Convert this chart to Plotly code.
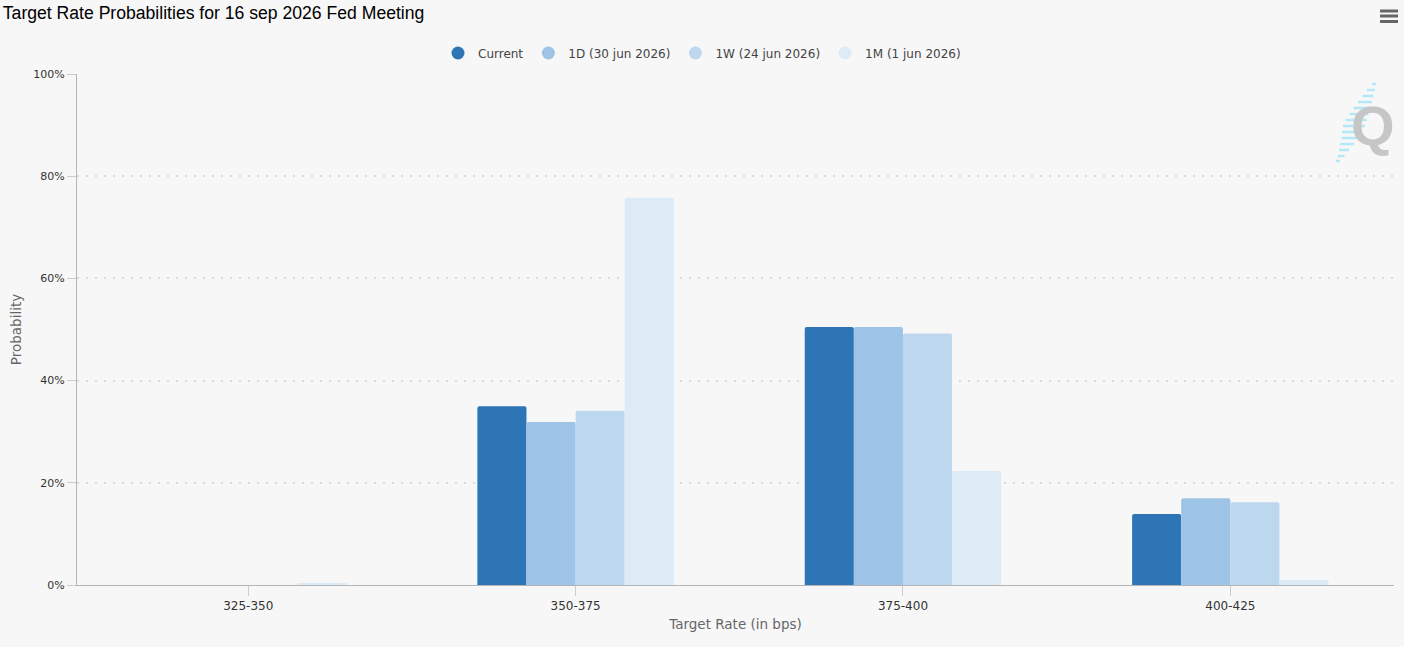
import plotly.graph_objects as go

categories = ["325-350", "350-375", "375-400", "400-425"]
series_names = ["Current", "1D (30 jun 2026)", "1W (24 jun 2026)", "1M (1 jun 2026)"]
current = [0.0, 35.0, 50.5, 13.9]
one_day = [0.0, 31.9, 50.5, 17.0]
one_week = [0.0, 34.1, 49.2, 16.2]
one_month = [0.2, 75.8, 22.3, 1.0]
y_ticks = [0, 20, 40, 60, 80, 100]
y_tick_labels = ["0%", "20%", "40%", "60%", "80%", "100%"]
colors = ["#2E75B6", "#9DC3E6", "#BDD7EE", "#DDEBF7"]

W, H = 1404, 647
L, R, T, B = 77, 10, 74, 62
PW, PH = W - L - R, H - T - B
FONT = "DejaVu Sans, Verdana, sans-serif"


def px2paper(px, py):
    return (px - L) / PW, (H - B - py) / PH


fig = go.Figure()
for name, vals, col in zip(series_names, [current, one_day, one_week, one_month], colors):
    fig.add_trace(go.Bar(
        x=categories, y=vals, name=name, marker=dict(color=col, line=dict(width=0)),
        showlegend=False, legendgroup=name,
    ))
for name, col in zip(series_names, colors):
    fig.add_trace(go.Scatter(
        x=[None], y=[None], mode="markers", name=name, legendgroup=name,
        marker=dict(color=col, size=13, symbol="circle"),
    ))

shapes = []
# hamburger menu icon
for yy in (11, 16, 21.5):
    x0, y0 = px2paper(1380, yy)
    x1, _ = px2paper(1398, yy)
    shapes.append(dict(type="line", xref="paper", yref="paper", x0=x0, x1=x1, y0=y0, y1=y0,
                       line=dict(color="#666666", width=3)))
# watermark streak
streak = [(1374, 84, 4), (1371, 90, 8), (1368, 96, 11), (1365, 102, 14), (1362, 108, 17),
          (1359, 114, 19), (1356, 120, 21), (1354, 126, 22), (1352, 132, 20), (1350, 138, 17),
          (1347, 144, 14), (1344, 150, 10), (1341, 156, 7), (1338, 161, 4)]
for cx, cy, ln in streak:
    x0, y0 = px2paper(cx - ln / 2, cy)
    x1, _ = px2paper(cx + ln / 2, cy)
    shapes.append(dict(type="line", xref="paper", yref="paper", x0=x0, x1=x1, y0=y0, y1=y0,
                       line=dict(color="#b5e8f7", width=2.5), layer="below"))

qx, qy = px2paper(1373, 125)

fig.update_layout(
    width=W, height=H,
    margin=dict(l=L, r=R, t=T, b=B, autoexpand=False),
    paper_bgcolor="#f7f7f7", plot_bgcolor="#f7f7f7",
    font=dict(family=FONT, size=11, color="#333333"),
    barmode="group", bargap=0.4, bargroupgap=0.0, barcornerradius=2,
    title=dict(text="Target Rate Probabilities for 16 sep 2026 Fed Meeting",
               x=0.002, xref="container", xanchor="left",
               y=1 - 13 / H, yref="container", yanchor="middle",
               font=dict(family="Liberation Sans, Arial, sans-serif", size=17.6, color="#000000")),
    legend=dict(orientation="h", x=0.5, xref="container", xanchor="center",
                y=1 - 53 / H, yref="container", yanchor="middle",
                font=dict(family=FONT, size=12, color="#444444"), bgcolor="rgba(0,0,0,0)",
                itemwidth=30, tracegroupgap=0),
    xaxis=dict(
        range=[-0.523, 3.5], showgrid=False, showline=True, linecolor="#b5b5b5", linewidth=1,
        ticks="outside", ticklen=10, tickcolor="#cccccc", tickfont=dict(family=FONT, size=12, color="#333333"),
        title=dict(text="Target Rate (in bps)", font=dict(family=FONT, size=13.5, color="#666666"), standoff=7),
        automargin=False, fixedrange=True,
    ),
    yaxis=dict(
        range=[0, 100], tickmode="array", tickvals=y_ticks, ticktext=y_tick_labels, showgrid=True,
        gridcolor="#dadada", gridwidth=2, griddash="2px,7px",
        zeroline=False, showline=True, linecolor="#b5b5b5", linewidth=1,
        ticks="outside", ticklen=9, tickcolor="#cccccc", tickfont=dict(family=FONT, size=11, color="#333333"),
        title=dict(text="Probability", font=dict(family=FONT, size=13.5, color="#666666"), standoff=8),
        automargin=False, fixedrange=True,
    ),
    shapes=shapes,
    annotations=[dict(text="<b>Q</b>", xref="paper", yref="paper", x=qx, y=qy,
                      xanchor="center", yanchor="middle", showarrow=False,
                      font=dict(family="Liberation Sans, Arial, sans-serif", size=56, color="#c6c6c6"))],
)

fig.write_html("out.html", config={"displayModeBar": False},
               post_script="document.body.style.margin='0';document.body.style.padding='0';")
